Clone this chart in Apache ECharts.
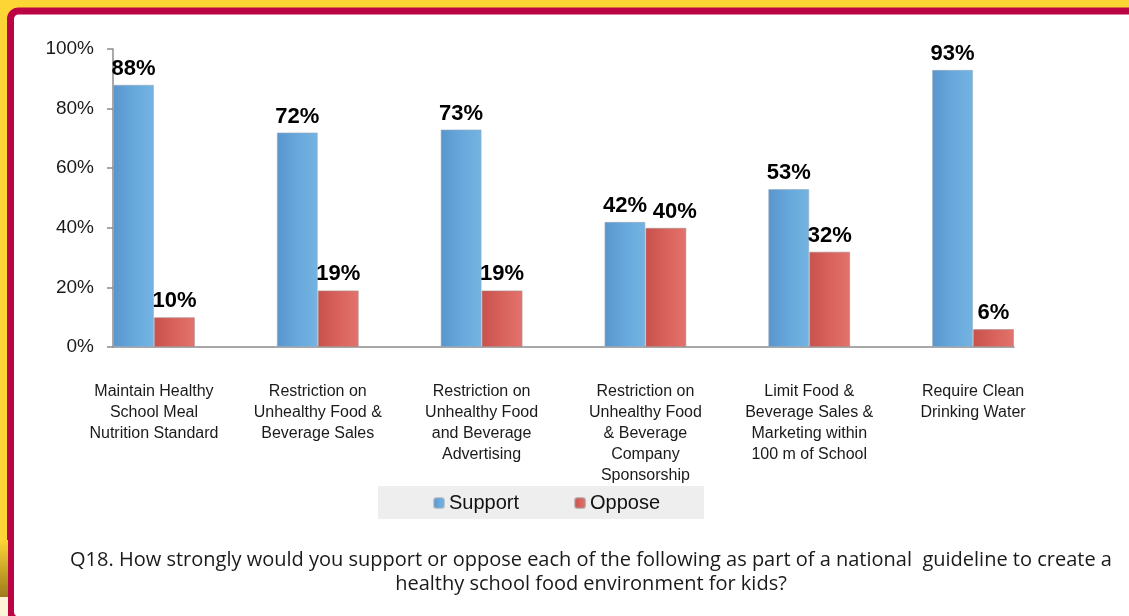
<!DOCTYPE html>
<html>
<head>
<meta charset="utf-8">
<script src="https://cdn.jsdelivr.net/npm/echarts@6/dist/echarts.min.js"></script>
<style>
	html, body { margin: 0; padding: 0; background: #FDD535; }
	#chart { width: 1129px; height: 616px; }
</style>
</head>
<body>
<div id="chart"></div>
<script>
"use strict";

var categories = [
	'Maintain Healthy\nSchool Meal\nNutrition Standard',
	'Restriction on\nUnhealthy Food &\nBeverage Sales',
	'Restriction on\nUnhealthy Food\nand Beverage\nAdvertising',
	'Restriction on\nUnhealthy Food\n& Beverage\nCompany\nSponsorship',
	'Limit Food &\nBeverage Sales &\nMarketing within\n100 m of School',
	'Require Clean\nDrinking Water'
];
var support = [88, 72, 73, 42, 53, 93];
var oppose = [10, 19, 19, 40, 32, 6];
var yTicks = [0, 20, 40, 60, 80, 100];
var note = 'Q18. How strongly would you support or oppose each of the following as part of a national  guideline to create a\nhealthy school food environment for kids?';

var FONT = 'Liberation Sans, Arial, sans-serif';

// the original sheet leaves an empty slot between each pair of bars
var axisCats = [];
var supportData = [];
var opposeData = [];
for (var i = 0; i < categories.length; i++) {
	axisCats.push(categories[i]);
	supportData.push(support[i]);
	// labels of two near-equal bars would touch, so push the second one aside
	if (Math.abs(support[i] - oppose[i]) < 5) {
		opposeData.push({ value: oppose[i], label: { offset: [9, 0] } });
	} else {
		opposeData.push(oppose[i]);
	}
	if (i < categories.length - 1) {
		axisCats.push('');
		supportData.push('-');
		opposeData.push('-');
	}
}

function grad(c0, c1, c2) {
	return new echarts.graphic.LinearGradient(0, 0, 1, 0, [
		{ offset: 0, color: c0 },
		{ offset: 0.5, color: c1 },
		{ offset: 1, color: c2 }
	]);
}

var chart = echarts.init(document.getElementById('chart'));

chart.setOption({
	backgroundColor: '#FDD535',
	animation: false,
	textStyle: { fontFamily: FONT },
	graphic: [
		{ type: 'rect', shape: { x: 0, y: 540, width: 8, height: 57 }, style: {
			fill: new echarts.graphic.LinearGradient(0, 0, 0, 1, [
				{ offset: 0, color: '#FDD535' }, { offset: 1, color: '#9C7A1C' }
			]) } },
		{ type: 'rect', shape: { x: 0, y: 597, width: 8, height: 20 }, style: { fill: '#FFF4D8' } },
		{ type: 'rect', z: -1, shape: { x: 10.5, y: 11, width: 1130, height: 609, r: 8 },
			style: { fill: '#FFFFFF', stroke: '#BA0443', lineWidth: 7 } }
	],
	title: {
		text: note,
		left: 586,
		top: 543,
		textAlign: 'center',
		textStyle: { fontFamily: 'Open Sans', fontSize: 20, fontWeight: 'normal', lineHeight: 24, color: '#1a1a1a' }
	},
	legend: {
		left: 378,
		top: 486,
		backgroundColor: '#EEEEEE',
		padding: [7, 44, 6, 55],
		itemGap: 55,
		itemWidth: 10,
		itemHeight: 10,
		textStyle: { fontFamily: FONT, fontSize: 20, color: '#111' },
		data: ['Support', 'Oppose']
	},
	grid: { left: 113, right: 115, top: 49, bottom: 269 },
	xAxis: {
		type: 'category',
		data: axisCats,
		axisLine: { lineStyle: { color: '#8C8C8C', width: 1.5 } },
		axisTick: { interval: 0, length: 6, lineStyle: { color: '#8C8C8C', width: 1.5 } },
		axisLabel: { interval: 0, margin: 34, fontFamily: FONT, fontSize: 16, lineHeight: 21, color: '#1a1a1a' }
	},
	yAxis: {
		type: 'value',
		min: 0,
		max: 100,
		interval: 20,
		splitLine: { show: false },
		axisLine: { show: true, lineStyle: { color: '#8C8C8C', width: 1.5 } },
		axisTick: { show: true, length: 6, lineStyle: { color: '#8C8C8C', width: 1.5 } },
		axisLabel: {
			margin: 19, fontFamily: FONT, fontSize: 19, color: '#1a1a1a',
			formatter: function(v) { return yTicks.indexOf(v) >= 0 ? v + '%' : ''; }
		}
	},
	series: [{
		name: 'Support',
		type: 'bar',
		barGap: '0%',
		barCategoryGap: '0%',
		data: supportData,
		itemStyle: { color: grad('#5895CC', '#67A8DC', '#74B4E2'), borderColor: 'rgba(150,170,190,0.6)', borderWidth: 1 },
		label: { show: true, position: 'top', distance: 5, formatter: '{c}%', fontFamily: FONT, fontSize: 22, fontWeight: 'bold', color: '#000' }
	}, {
		name: 'Oppose',
		type: 'bar',
		data: opposeData,
		itemStyle: { color: grad('#C9514D', '#D9625C', '#E2736C'), borderColor: 'rgba(170,140,140,0.6)', borderWidth: 1 },
		label: { show: true, position: 'top', distance: 5, formatter: '{c}%', fontFamily: FONT, fontSize: 22, fontWeight: 'bold', color: '#000' }
	}]
});
</script>
</body>
</html>
